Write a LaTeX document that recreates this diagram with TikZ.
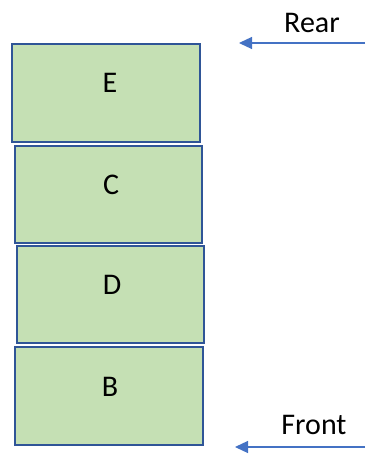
\documentclass[tikz,border=0pt]{standalone}
\usepackage{fontspec}
\setmainfont{Carlito}
\usetikzlibrary{arrows.meta}
\definecolor{boxfill}{HTML}{C5E0B4}
\definecolor{boxline}{HTML}{2F5597}
\definecolor{arrowblue}{HTML}{4472C4}
\begin{document}
\begin{tikzpicture}[x=1pt,y=-1pt,
  stackbox/.style={draw=boxline,fill=boxfill,line width=2.5pt},
  boxlabel/.style={font=\fontsize{30}{34}\selectfont,anchor=center},
  sidelabel/.style={font=\fontsize{30}{34}\selectfont,anchor=center},
  pointer/.style={draw=arrowblue,line width=1.2pt,-{Triangle[length=13pt,width=12pt]}}]
\useasboundingbox (0,0) rectangle (366,455);
% stack of elements, rear at the top
\draw[stackbox] (12,44) rectangle (200,142);
\draw[stackbox] (15,146) rectangle (202,243);
\draw[stackbox] (17,246) rectangle (204,343);
\draw[stackbox] (15,347) rectangle (203,445);
\node[boxlabel] (e) at (110,83) {E};
\node[boxlabel] (c) at (111,185) {C};
\node[boxlabel] (d) at (112,285) {D};
\node[boxlabel] (b) at (110,387) {B};
% rear and front markers
\node[sidelabel] (rear) at (312,23) {Rear};
\node[sidelabel] (front) at (314,425) {Front};
\coordinate (rearstart) at (365,43);
\coordinate (rearend) at (239,43);
\coordinate (frontstart) at (365,447);
\coordinate (frontend) at (235,447);
\draw[pointer] (rearstart) -- (rearend);
\draw[pointer] (frontstart) -- (frontend);
\end{tikzpicture}
\end{document}
